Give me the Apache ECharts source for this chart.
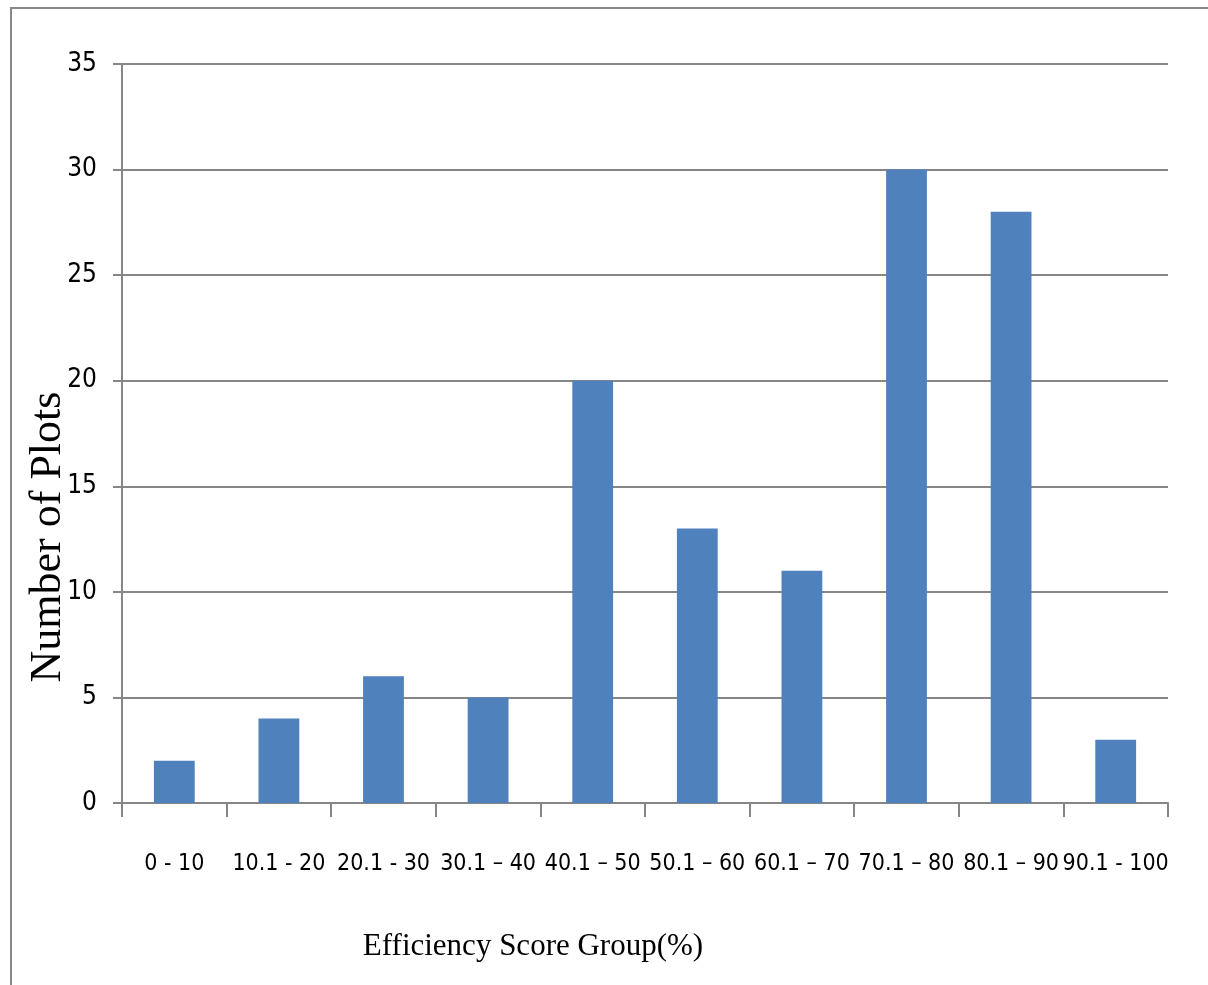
<!DOCTYPE html>
<html>
<head>
<meta charset="utf-8">
<script src="https://cdn.jsdelivr.net/npm/echarts@6/dist/echarts.min.js"></script>
<style>html,body{margin:0;padding:0;background:#fff}#c{width:1208px;height:985px}</style>
</head>
<body>
<div id="c"></div>
<script>
const categories = ["0 - 10", "10.1 - 20", "20.1 - 30", "30.1 \u2013 40", "40.1 \u2013 50", "50.1 \u2013 60", "60.1 \u2013 70", "70.1 \u2013 80", "80.1 \u2013 90", "90.1 - 100"];
const plotCounts = [2, 4, 6, 5, 20, 13, 11, 30, 28, 3];
const yTicks = { min: 0, max: 35, interval: 5 };
const xTitle = "Efficiency Score Group(%)";
const yTitle = "Number of Plots";

const narrow = "'Liberation Sans Narrow', 'Arial Narrow', 'DejaVu Sans Condensed', 'Roboto Condensed', 'Open Sans Condensed', sans-serif";

const chart = echarts.init(document.getElementById('c'), null, { renderer: 'canvas' });
chart.setOption({
  animation: false,
  backgroundColor: '#fff',
  graphic: [{
    type: 'rect', silent: true,
    shape: { x: 11, y: 8, width: 1400, height: 1200 },
    style: { fill: 'none', stroke: '#888888', lineWidth: 2 }
  }, {
    type: 'text', silent: true,
    x: 48, y: 537, rotation: Math.PI / 2,
    style: { text: yTitle, fill: '#000', font: "44px 'Liberation Serif'", align: 'center', verticalAlign: 'middle' }
  }],
  grid: { left: 122, right: 40, top: 64, bottom: 182, containLabel: false },
  xAxis: {
    type: 'category',
    data: categories,
    boundaryGap: true,
    axisLine: { show: true, lineStyle: { color: '#868686', width: 2 } },
    axisTick: { show: true, length: 14, alignWithLabel: false, lineStyle: { color: '#868686', width: 2 } },
    axisLabel: { interval: 0, margin: 50, color: '#000', fontFamily: narrow, fontSize: 23 },
    name: xTitle,
    nameLocation: 'middle',
    nameGap: 128,
    nameTextStyle: { color: '#000', fontFamily: 'Liberation Serif', fontSize: 31, padding: [0, 224, 0, 0] }
  },
  yAxis: {
    type: 'value',
    min: yTicks.min, max: yTicks.max, interval: yTicks.interval,
    axisLine: { show: true, lineStyle: { color: '#868686', width: 2 } },
    axisTick: { show: true, length: 9, lineStyle: { color: '#868686', width: 2 } },
    splitLine: { show: true, lineStyle: { color: '#868686', width: 2 } },
    axisLabel: { margin: 25, color: '#000', fontFamily: narrow, fontSize: 26 }
  },
  series: [{
    type: 'bar',
    data: plotCounts,
    barWidth: '39%',
    itemStyle: { color: '#4F81BD' }
  }]
});
</script>
</body>
</html>
